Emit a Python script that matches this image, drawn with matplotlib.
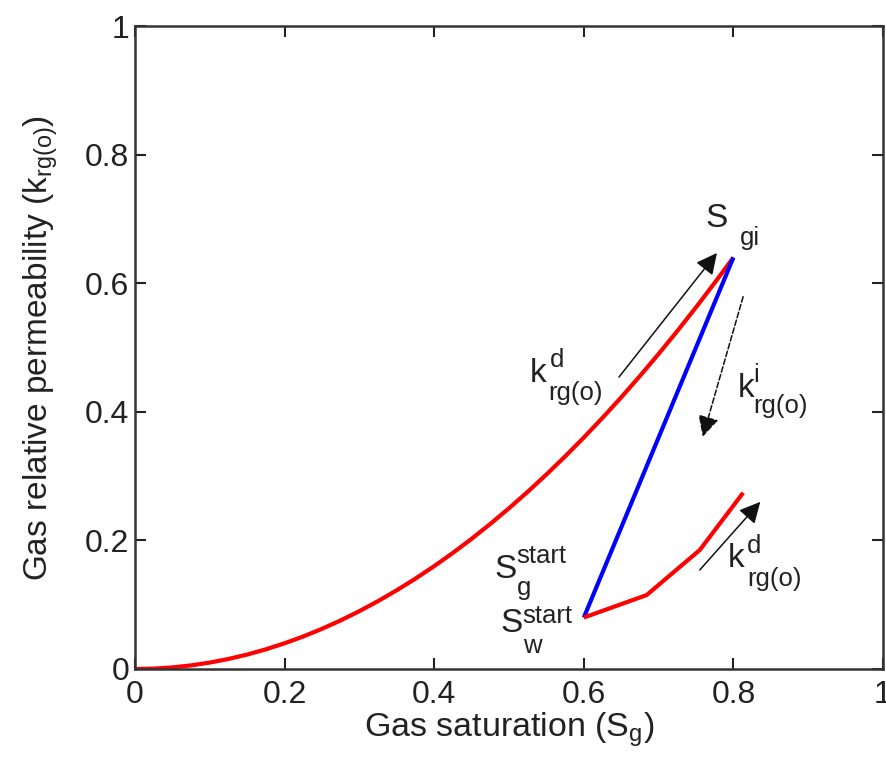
import matplotlib
matplotlib.use("Agg")
import matplotlib.pyplot as plt
from matplotlib.transforms import offset_copy

plt.rcParams['font.family'] = ['Liberation Sans', 'DejaVu Sans']
plt.rcParams['mathtext.fontset'] = 'custom'
plt.rcParams['mathtext.rm'] = 'Liberation Sans'
plt.rcParams['mathtext.it'] = 'Liberation Sans'
plt.rcParams['mathtext.bf'] = 'Liberation Sans:bold'

# Drainage curve
drain_sg = [0.0, 0.025, 0.05, 0.075, 0.1, 0.125, 0.15, 0.175, 0.2, 0.225, 0.25, 0.275,
            0.3, 0.325, 0.35, 0.375, 0.4, 0.425, 0.45, 0.475, 0.5, 0.525, 0.55, 0.575,
            0.6, 0.625, 0.65, 0.675, 0.7, 0.725, 0.75, 0.775, 0.8]
drain_kr = [0.0, 0.0006, 0.0025, 0.0056, 0.01, 0.0156, 0.0225, 0.0306, 0.04, 0.0506,
            0.0625, 0.0756, 0.09, 0.1056, 0.1225, 0.1406, 0.16, 0.1806, 0.2025, 0.2256,
            0.25, 0.2756, 0.3025, 0.3306, 0.36, 0.3906, 0.4225, 0.4556, 0.49, 0.5256,
            0.5625, 0.6006, 0.64]
# Imbibition line
imb_sg = [0.8, 0.6]
imb_kr = [0.64, 0.08]
# Secondary drainage
sec_sg = [0.6, 0.684, 0.755, 0.813]
sec_kr = [0.08, 0.115, 0.185, 0.274]

xticks = [0, 0.2, 0.4, 0.6, 0.8, 1]
yticks = [0, 0.2, 0.4, 0.6, 0.8, 1]
tick_labels = ['0', '0.2', '0.4', '0.6', '0.8', '1']

# arrows: (start, end, style)
arrows = [((0.647, 0.454), (0.778, 0.647), '-'),
          ((0.813, 0.579), (0.759, 0.361), '--'),
          ((0.755, 0.154), (0.836, 0.260), '-')]

# labels: base position (data), base, superscript, subscript
label_pos = [(0.762, 0.687), (0.528, 0.446), (0.806, 0.423),
             (0.793, 0.159), (0.481, 0.1415), (0.488, 0.0575)]
label_base = ['S', 'k', 'k', 'k', 'S', 'S']
label_sup = ['', 'd', 'i', 'd', 'start', 'start']
label_sub = ['gi', 'rg(o)', 'rg(o)', 'rg(o)', 'g', 'w']
# script offsets in pixels: (sup_dx, sup_dy, sub_dx, sub_dy)
script_off = [(0, 0, 35, -18), (20, 15, 18, -18), (15, 15, 15, -16),
              (19, 14, 19, -19), (22, 15, 22, -17), (22, 9, 23, -21)]

W, H = 887, 762
fig = plt.figure(figsize=(W / 100, H / 100), dpi=100)
ax = fig.add_axes([135 / W, (H - 669) / H, 748 / W, 643 / H])

ax.plot(drain_sg, drain_kr, color='#ff0000', lw=3.0, solid_capstyle='butt')
ax.plot(imb_sg, imb_kr, color='#0000ff', lw=3.0, solid_capstyle='butt')
ax.plot(sec_sg, sec_kr, color='#ff0000', lw=3.0, solid_capstyle='butt')

for (x0, y0), (x1, y1), ls in arrows:
    ax.annotate('', xy=(x1, y1), xytext=(x0, y0),
                arrowprops=dict(arrowstyle='-|>', mutation_scale=32, lw=1.1,
                                color='#111111', linestyle=ls, shrinkA=0, shrinkB=0))

tc = '#222222'
for (x, y), b, sp, sb, (sdx, sdy, bdx, bdy) in zip(label_pos, label_base, label_sup,
                                                      label_sub, script_off):
    ax.text(x, y, b, fontsize=24, color=tc, ha='left', va='baseline')
    if sp:
        ax.text(x, y, sp, fontsize=18.5, color=tc, ha='left', va='baseline',
                transform=offset_copy(ax.transData, fig=fig, x=sdx, y=sdy, units='dots'))
    if sb:
        ax.text(x, y, sb, fontsize=18.5, color=tc, ha='left', va='baseline',
                transform=offset_copy(ax.transData, fig=fig, x=bdx, y=bdy, units='dots'))

ax.set_xlim(0, 1)
ax.set_ylim(0, 1)
ax.set_xticks(xticks)
ax.set_xticklabels(tick_labels)
ax.set_yticks(yticks)
ax.set_yticklabels(tick_labels)
ax.tick_params(direction='in', length=8, width=1.5, top=True, right=True,
               labelsize=23, colors=tc)
ax.tick_params(axis='x', pad=8)
ax.tick_params(axis='y', pad=4)
for s in ax.spines.values():
    s.set_linewidth(1.8)
    s.set_color('#333333')

ax.set_xlabel(r'Gas saturation (S$_{g}$)', fontsize=24.5, color=tc, labelpad=0)
ax.set_ylabel(r'Gas relative permeability (k$_{rg(o)}$)', fontsize=24, color=tc, labelpad=18)

fig.savefig('out.png', dpi=100)
